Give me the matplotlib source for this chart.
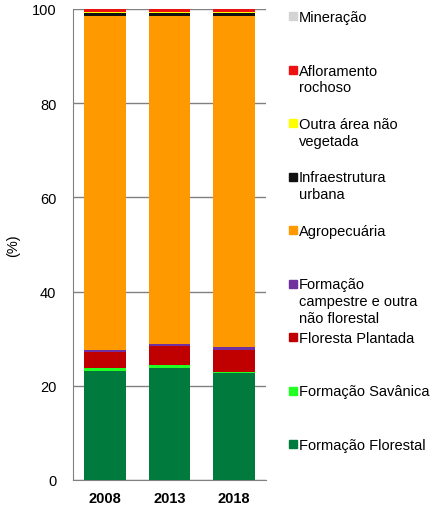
import numpy as np
import matplotlib.pyplot as plt
from matplotlib.patches import Rectangle

plt.rcParams['font.family'] = ['Liberation Sans', 'DejaVu Sans']

anos = ['2008', '2013', '2018']

# classes de baixo para cima
classes = ['Formação Florestal', 'Formação Savânica', 'Floresta Plantada',
           'Formação\ncampestre e outra\nnão florestal', 'Agropecuária',
           'Infraestrutura\nurbana', 'Outra área não\nvegetada',
           'Afloramento\nrochoso', 'Mineração']
cores = ['#007A3D', '#22FF22', '#C00000', '#7030A0', '#FF9900',
         '#111111', '#FFFF00', '#EE1111', '#D4D4D4']

form_florestal = [23.2, 23.8, 22.65]
form_savanica = [0.5, 0.55, 0.25]
floresta_plantada = [3.4, 4.0, 4.8]
form_campestre = [0.55, 0.45, 0.5]
agropecuaria = [70.95, 69.65, 70.3]
infraestrutura = [0.55, 0.7, 0.65]
outra_area = [0.3, 0.3, 0.3]
afloramento = [0.5, 0.5, 0.5]
mineracao = [0.05, 0.05, 0.05]

valores = [form_florestal, form_savanica, floresta_plantada, form_campestre,
           agropecuaria, infraestrutura, outra_area, afloramento, mineracao]

W, H = 435, 510
fig = plt.figure(figsize=(W / 100, H / 100), dpi=100)
ax = fig.add_axes([73 / W, 1 - 481 / H, (266 - 73) / W, (481 - 10) / H])

x = np.arange(len(anos))
base = np.zeros(len(anos))
for v, c in zip(valores, cores):
    ax.bar(x, v, bottom=base, width=0.65, color=c, zorder=3)
    base += np.array(v)

ax.set_xlim(-0.5, 2.5)
ax.set_ylim(0, 100)
ax.set_yticks(range(0, 101, 20))
ax.yaxis.grid(True, color='#808080', linewidth=1, zorder=0)
ax.set_axisbelow(True)
for s in ['top', 'right']:
    ax.spines[s].set_visible(False)
for s in ['left', 'bottom']:
    ax.spines[s].set_color('#808080')
ax.tick_params(axis='both', length=0, labelsize=10.5, colors='black')
ax.tick_params(axis='y', pad=12)
ax.tick_params(axis='x', pad=8)
ax.set_xticks(x)
ax.set_xticklabels(anos, fontweight='bold')
ax.set_ylabel('(%)', fontsize=10.5, labelpad=8)

# legenda manual, de cima para baixo
y0 = 17
passo = 53.5
for i, (nome, c) in enumerate(zip(classes[::-1], cores[::-1])):
    yp = y0 + i * passo
    fig.patches.append(Rectangle((289 / W, 1 - (yp + 4) / H), 8 / W, 8 / H,
                                 transform=fig.transFigure, color=c,
                                 figure=fig))
    fig.text(299 / W, 1 - (yp - 6) / H, nome, fontsize=10.5, va='top',
             ha='left', linespacing=1.25)

fig.savefig('out.png', dpi=100)
